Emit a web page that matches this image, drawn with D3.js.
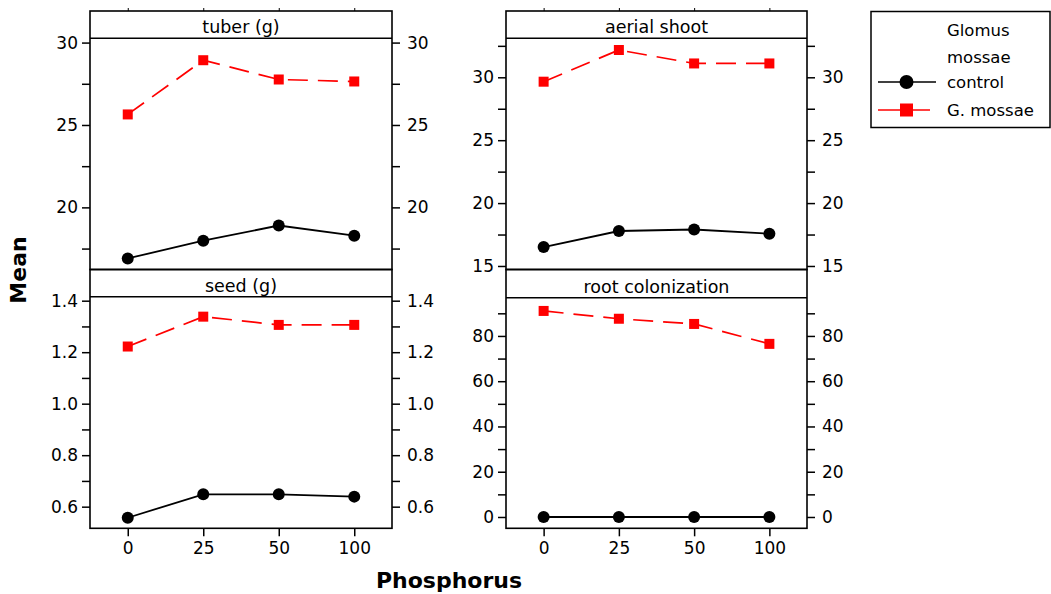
<!DOCTYPE html>
<html><head><meta charset="utf-8">
<script src="https://cdn.jsdelivr.net/npm/d3@7"></script>
<style>
html,body{margin:0;padding:0;background:#fff;}
svg{display:block;font-family:"DejaVu Sans",sans-serif;}
</style></head>
<body>
<svg id="chart" width="1051" height="594"></svg>
<script>
// ---- data ----
const categories = ["0", "25", "50", "100"];
const seriesNames = ["control", "G. mossae"];
const panelTitles = ["tuber (g)", "aerial shoot", "seed (g)", "root colonization"];

const tuberControl = [16.9, 17.98, 18.9, 18.28];
const tuberMossae  = [25.64, 28.93, 27.76, 27.64];
const aerialControl = [16.5, 17.78, 17.9, 17.56];
const aerialMossae  = [29.65, 32.17, 31.1, 31.1];
const seedControl = [0.557, 0.648, 0.648, 0.639];
const seedMossae  = [1.222, 1.338, 1.306, 1.306];
const rootControl = [0, 0, 0, 0];
const rootMossae  = [91.05, 87.6, 85.3, 76.5];

const tuberTicks = [20, 25, 30];
const tuberMinor = [17.5, 22.5, 27.5];
const aerialTicks = [15, 20, 25, 30];
const aerialMinor = [17.5, 22.5, 27.5, 32.5];
const seedTicks = [0.6, 0.8, 1.0, 1.2, 1.4];
const seedMinor = [0.7, 0.9, 1.1, 1.3];
const rootTicks = [0, 20, 40, 60, 80];
const rootMinor = [10, 30, 50, 70, 90];

// ---- layout ----
const svg = d3.select("#chart");
const colors = ["#000000", "#ff0000"];
const fontTick = 17;

const panels = [
  {title: panelTitles[0], x0: 90, x1: 392, top: 11, strip: 38.3, bottom: 269.5, domain: [16.23, 30.26],
   ticks: tuberTicks, minor: tuberMinor, fmt: d3.format("d"), data: [tuberControl, tuberMossae], xAxis: false},
  {title: panelTitles[1], x0: 506, x1: 807, top: 11, strip: 38.3, bottom: 269.5, domain: [14.72, 33.1],
   ticks: aerialTicks, minor: aerialMinor, fmt: d3.format("d"), data: [aerialControl, aerialMossae], xAxis: false},
  {title: panelTitles[2], x0: 90, x1: 392, top: 269.5, strip: 296.7, bottom: 528.3, domain: [0.516, 1.4155],
   ticks: seedTicks, minor: seedMinor, fmt: d3.format(".1f"), data: [seedControl, seedMossae], xAxis: true},
  {title: panelTitles[3], x0: 506, x1: 807, top: 269.5, strip: 297.7, bottom: 528.3, domain: [-5, 96.9],
   ticks: rootTicks, minor: rootMinor, fmt: d3.format("d"), data: [rootControl, rootMossae], xAxis: true}
];

panels.forEach(p => {
  const x = d3.scalePoint().domain(categories).range([p.x0, p.x1]).padding(0.5);
  const y = d3.scaleLinear().domain(p.domain).range([p.bottom, p.strip]);
  const g = svg.append("g");

  // left axis
  const left = d3.axisLeft(y).tickValues(p.ticks).tickFormat(p.fmt).tickSize(8).tickPadding(4);
  const gl = g.append("g").attr("transform", `translate(${p.x0},0)`).call(left);
  gl.select(".domain").remove();
  gl.selectAll("text").attr("font-size", fontTick).attr("font-family", "DejaVu Sans").attr("fill", "#000");
  gl.selectAll("line").attr("stroke-width", 1.5);
  const glm = g.append("g").attr("transform", `translate(${p.x0},0)`)
    .call(d3.axisLeft(y).tickValues(p.minor).tickFormat("").tickSize(8));
  glm.select(".domain").remove();
  glm.selectAll("line").attr("stroke-width", 1.5);

  // right axis
  const right = d3.axisRight(y).tickValues(p.ticks).tickFormat(p.fmt).tickSize(8).tickPadding(7);
  const gr = g.append("g").attr("transform", `translate(${p.x1},0)`).call(right);
  gr.select(".domain").remove();
  gr.selectAll("text").attr("font-size", fontTick).attr("font-family", "DejaVu Sans").attr("fill", "#000");
  gr.selectAll("line").attr("stroke-width", 1.5);
  const grm = g.append("g").attr("transform", `translate(${p.x1},0)`)
    .call(d3.axisRight(y).tickValues(p.minor).tickFormat("").tickSize(8));
  grm.select(".domain").remove();
  grm.selectAll("line").attr("stroke-width", 1.5);

  // x axis
  if (p.xAxis) {
    const gx = g.append("g").attr("transform", `translate(0,${p.bottom})`)
      .call(d3.axisBottom(x).tickSize(8).tickPadding(6));
    gx.select(".domain").remove();
    gx.selectAll("text").attr("font-size", fontTick).attr("font-family", "DejaVu Sans").attr("fill", "#000");
    gx.selectAll("line").attr("stroke-width", 1.5);
  } else {
    const gt = g.append("g").attr("transform", `translate(0,${p.top})`)
      .call(d3.axisTop(x).tickSize(3).tickFormat(""));
    gt.select(".domain").remove();
    gt.selectAll("line").attr("stroke-width", 1);
  }

  // frame & strip
  g.append("rect").attr("x", p.x0).attr("y", p.top).attr("width", p.x1 - p.x0).attr("height", p.bottom - p.top)
    .attr("fill", "none").attr("stroke", "#000").attr("stroke-width", 1.6);
  g.append("line").attr("x1", p.x0).attr("x2", p.x1).attr("y1", p.strip).attr("y2", p.strip)
    .attr("stroke", "#000").attr("stroke-width", 1.6);
  g.append("text").attr("x", (p.x0 + p.x1) / 2).attr("y", p.strip - 5)
    .attr("text-anchor", "middle").attr("font-family", "DejaVu Sans").attr("font-size", 17.5).text(p.title);

  // series
  const line = d3.line().x((d, i) => x(categories[i])).y(d => y(d));
  p.data.forEach((vals, si) => {
    g.append("path").datum(vals).attr("d", line).attr("fill", "none")
      .attr("stroke", colors[si]).attr("stroke-width", si === 0 ? 1.8 : 1.7)
      .attr("stroke-dasharray", si === 1 ? "20,10" : null);
    if (si === 0) {
      g.selectAll(null).data(vals).enter().append("circle")
        .attr("cx", (d, i) => x(categories[i])).attr("cy", d => y(d)).attr("r", 6).attr("fill", colors[0]);
    } else {
      g.selectAll(null).data(vals).enter().append("rect")
        .attr("x", (d, i) => x(categories[i]) - 5).attr("y", d => y(d) - 5)
        .attr("width", 10).attr("height", 10).attr("fill", colors[1]);
    }
  });
});

// axis titles
svg.append("text").attr("transform", "translate(26,270) rotate(-90)").attr("text-anchor", "middle")
  .attr("font-family", "DejaVu Sans").attr("font-weight", "bold").attr("font-size", 22).text("Mean");
svg.append("text").attr("x", 449).attr("y", 588).attr("text-anchor", "middle")
  .attr("font-family", "DejaVu Sans").attr("font-weight", "bold").attr("font-size", 22).text("Phosphorus");

// legend
const lg = svg.append("g").attr("font-family", "DejaVu Sans").attr("font-size", 16.5);
lg.append("rect").attr("x", 871).attr("y", 11.5).attr("width", 179).attr("height", 116)
  .attr("fill", "none").attr("stroke", "#000").attr("stroke-width", 1.5);
lg.append("text").attr("x", 947).attr("y", 36).text("Glomus");
lg.append("text").attr("x", 947).attr("y", 63).text("mossae");
const legY = [82, 110];
seriesNames.forEach((name, i) => {
  lg.append("line").attr("x1", 878).attr("x2", i === 0 ? 936 : 930).attr("y1", legY[i]).attr("y2", legY[i])
    .attr("stroke", colors[i]).attr("stroke-width", 1.6);
  if (i === 0) lg.append("circle").attr("cx", 906.5).attr("cy", legY[i]).attr("r", 7).attr("fill", colors[i]);
  else lg.append("rect").attr("x", 900).attr("y", legY[i] - 6.5).attr("width", 13).attr("height", 13).attr("fill", colors[i]);
  lg.append("text").attr("x", 947).attr("y", legY[i] + 6).text(name);
});
</script>
</body></html>
